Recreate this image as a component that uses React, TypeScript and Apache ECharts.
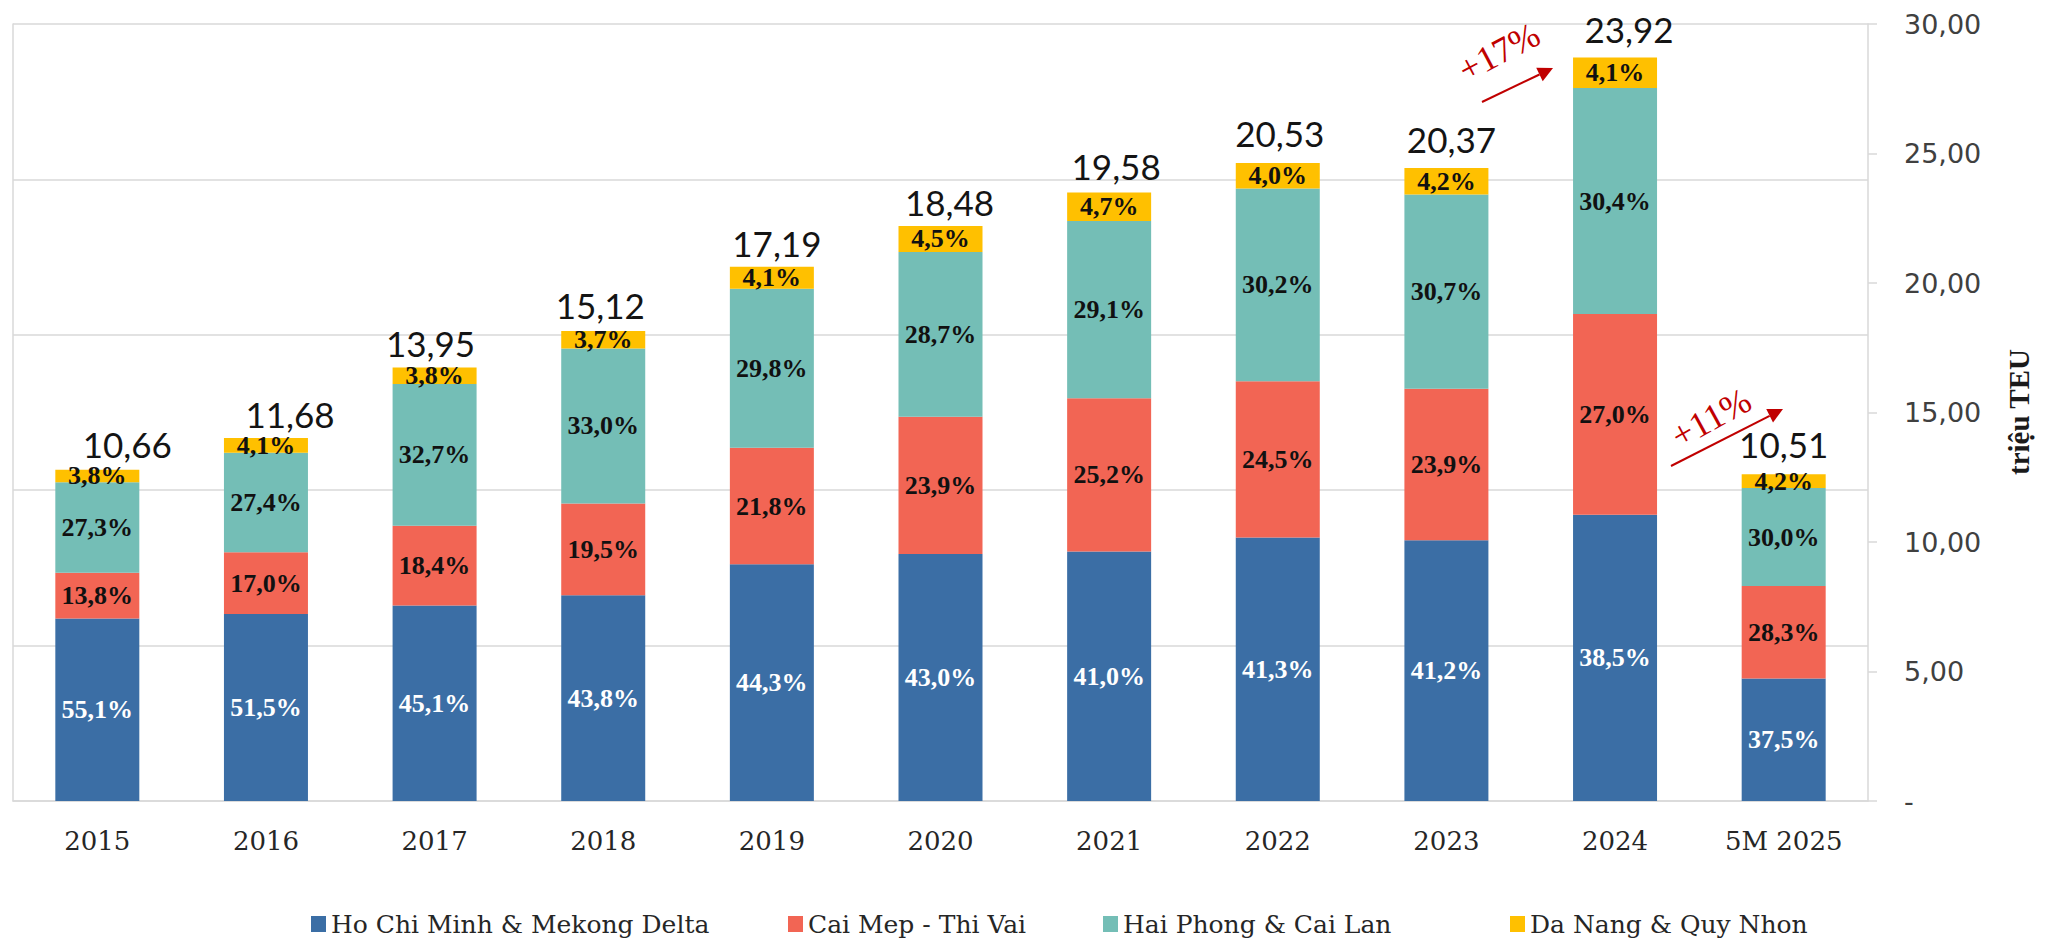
import React, { useEffect, useRef } from "react";
import * as echarts from "echarts";

const categories = ["2015", "2016", "2017", "2018", "2019", "2020", "2021", "2022", "2023", "2024", "5M 2025"];
const totals = [10.66, 11.68, 13.95, 15.12, 17.19, 18.48, 19.58, 20.53, 20.37, 23.92, 10.51];
const pctHoChiMinh = [55.1, 51.5, 45.1, 43.8, 44.3, 43.0, 41.0, 41.3, 41.2, 38.5, 37.5];
const pctCaiMep = [13.8, 17.0, 18.4, 19.5, 21.8, 23.9, 25.2, 24.5, 23.9, 27.0, 28.3];
const pctHaiPhong = [27.3, 27.4, 32.7, 33.0, 29.8, 28.7, 29.1, 30.2, 30.7, 30.4, 30.0];
const pctDaNang = [3.8, 4.1, 3.8, 3.7, 4.1, 4.5, 4.7, 4.0, 4.2, 4.1, 4.2];
const seriesNames = ["Ho Chi Minh & Mekong Delta", "Cai Mep - Thi Vai", "Hai Phong & Cai Lan", "Da Nang & Quy Nhon"];
const growthLabels = ["+17%", "+11%"];
const rightAxisMax = 30;
const leftAxisMax = 25;
const axisTitle = "triệu TEU";

// layout only: pixel offsets of the total labels from the bar tops
const totalLabelOffsets = [
  [30, -26], [24, -24], [-4, -24], [-3, -26], [5, -24], [9, -25],
  [7, -26], [2, -30], [5, -29], [14, -29], [0, -30],
];
// layout only: legend item x positions
const legendX = [311, 788, 1103, 1510];

const colors = ["#3B6EA5", "#F26554", "#74BEB6", "#FFC000"];
const labelColors = ["#ffffff", "#111111", "#111111", "#111111"];

const fmtComma = (v: number, d: number) => v.toFixed(d).replace(".", ",");

export default function App() {
  const ref = useRef<HTMLDivElement>(null);
  useEffect(() => {
    if (!ref.current) return;
    const chart = echarts.init(ref.current, null, { renderer: "svg" });
    const pcts = [pctHoChiMinh, pctCaiMep, pctHaiPhong, pctDaNang];
    const barSeries = pcts.map((pct, k) => ({
      name: seriesNames[k],
      type: "bar",
      stack: "total",
      barWidth: 84,
      xAxisIndex: 0,
      yAxisIndex: 0,
      itemStyle: { color: colors[k] },
      label: {
        show: true,
        position: "inside",
        fontFamily: "Liberation Serif",
        fontWeight: "bold",
        fontSize: 26,
        color: labelColors[k],
        formatter: (p: any) => fmtComma(pct[p.dataIndex], 1) + "%",
      },
      data: totals.map((t, i) => (t * pct[i]) / 100),
    }));

    const totalSeries = {
      name: "total",
      type: "custom",
      xAxisIndex: 0,
      yAxisIndex: 0,
      silent: true,
      z: 5,
      renderItem: (params: any, api: any) => {
        const pt = api.coord([api.value(0), api.value(1)]);
        const off = totalLabelOffsets[params.dataIndex];
        return {
          type: "text",
          x: pt[0] + off[0],
          y: pt[1] + off[1],
          style: {
            text: fmtComma(api.value(1), 2),
            fill: "#141414",
            font: '35px "Lato"',
            align: "center",
            verticalAlign: "middle",
          },
        };
      },
      data: totals.map((t, i) => [i, t]),
    };

    const arrowColor = "#C00000";
    const arrow = (x1: number, y1: number, x2: number, y2: number) => {
      const dx = x2 - x1, dy = y2 - y1;
      const len = Math.sqrt(dx * dx + dy * dy);
      const ux = dx / len, uy = dy / len;
      const nx = -uy, ny = ux;
      const hl = 15, hw = 7.5;
      const bx = x2 - ux * hl, by = y2 - uy * hl;
      return [
        { type: "line", shape: { x1, y1, x2: bx, y2: by }, style: { stroke: arrowColor, lineWidth: 2 } },
        {
          type: "polygon",
          shape: { points: [[x2, y2], [bx + nx * hw, by + ny * hw], [bx - nx * hw, by - ny * hw]] },
          style: { fill: arrowColor },
        },
      ];
    };

    const legendTextStyle = {
      fontFamily: "DejaVu Serif",
      fontSize: 25,
      lineHeight: 28,
      color: "#262626",
    };

    chart.setOption({
      animation: false,
      backgroundColor: "#ffffff",
      grid: { left: 13, right: 201, top: 24, bottom: 140, containLabel: false },
      legend: seriesNames.map((n, k) => ({
        data: [n],
        left: legendX[k],
        top: 910,
        padding: 0,
        icon: "rect",
        itemWidth: 15,
        itemHeight: 16,
        textStyle: legendTextStyle,
      })),
      xAxis: {
        type: "category",
        data: categories,
        axisLine: { show: true, lineStyle: { color: "#d9d9d9", width: 1.5 } },
        axisTick: { show: false },
        axisLabel: { fontFamily: "DejaVu Serif", fontSize: 26, color: "#262626", margin: 27 },
      },
      yAxis: [
        {
          type: "value",
          min: 0,
          max: leftAxisMax,
          interval: 5,
          position: "left",
          axisLine: { show: true, lineStyle: { color: "#d9d9d9", width: 1.5 } },
          axisTick: { show: false },
          axisLabel: { show: false },
          splitLine: { show: true, lineStyle: { color: "#d9d9d9", width: 1.5 } },
        },
        {
          type: "value",
          min: 0,
          max: rightAxisMax,
          interval: 5,
          position: "right",
          axisLine: { show: true, lineStyle: { color: "#d9d9d9", width: 1.5 } },
          axisTick: { show: true, length: 9, lineStyle: { color: "#d9d9d9", width: 1.5 } },
          splitLine: { show: false },
          axisLabel: {
            margin: 36,
            fontFamily: "DejaVu Sans",
            fontSize: 27,
            color: "#404040",
            formatter: (v: number) => (v === 0 ? "-" : fmtComma(v, 2)),
          },
        },
      ],
      series: [...barSeries, totalSeries],
      graphic: [
        ...arrow(1482, 102, 1553, 68),
        ...arrow(1671, 466, 1783, 409),
        {
          type: "text",
          x: 1499,
          y: 52,
          rotation: (28 * Math.PI) / 180,
          style: {
            text: growthLabels[0],
            fill: arrowColor,
            font: '36px "Liberation Serif"',
            align: "center",
            verticalAlign: "middle",
          },
        },
        {
          type: "text",
          x: 1711,
          y: 418,
          rotation: (29 * Math.PI) / 180,
          style: {
            text: growthLabels[1],
            fill: arrowColor,
            font: '36px "Liberation Serif"',
            align: "center",
            verticalAlign: "middle",
          },
        },
        {
          type: "text",
          x: 2019,
          y: 412,
          rotation: Math.PI / 2,
          style: {
            text: axisTitle,
            fill: "#1a1a1a",
            font: 'bold 29px "Liberation Serif"',
            align: "center",
            verticalAlign: "middle",
          },
        },
      ],
    });
    return () => chart.dispose();
  }, []);
  return <div ref={ref} style={{ position: "fixed", left: 0, top: 0, width: 2069, height: 941 }} />;
}
